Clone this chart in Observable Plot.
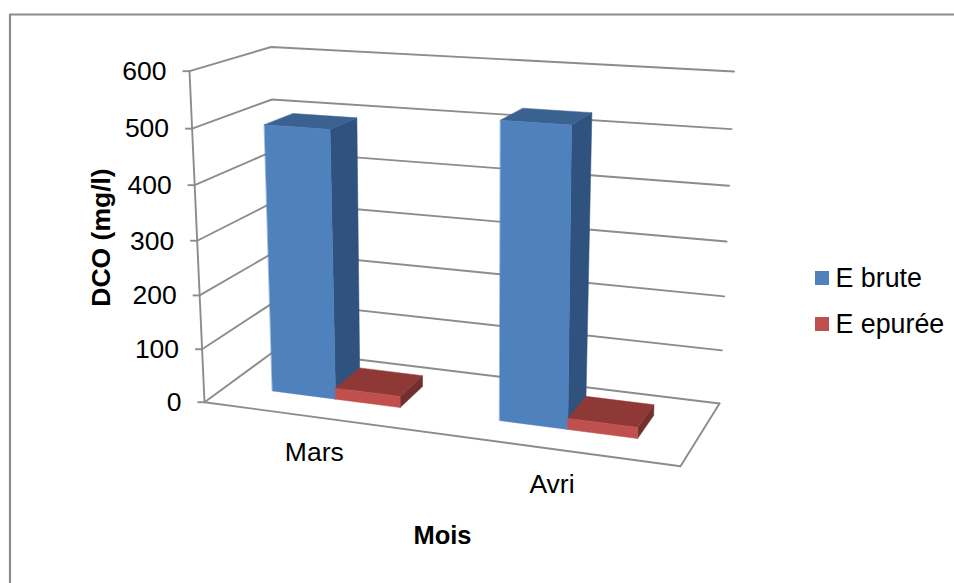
<!DOCTYPE html>
<html>
<head>
<meta charset="utf-8">
<script src="https://cdn.jsdelivr.net/npm/d3@7"></script>
<script src="https://cdn.jsdelivr.net/npm/@observablehq/plot@0.6"></script>
<style>html,body{margin:0;padding:0;background:#fff}svg{display:block}</style>
</head>
<body>
<div id="chart"></div>
<script>
const months = ["Mars", "Avri"];
const seriesNames = ["E brute", "E epurée"];
const eBrute = [496, 533];
const eEpuree = [21, 20];
const yTicks = [0, 100, 200, 300, 400, 500, 600];
const yMax = 600;

const frontColors = ["#4F81BD", "#C0504D"];
const sideColors = ["#2F527E", "#71302E"];
const topColors = ["#3A6290", "#8F3937"];
const gridColor = "#8C8C8C";
const font = "Liberation Sans, Arial, sans-serif";

// The eight corners of the chart's box as seen in the picture
const box = {
  bottom: {fl: [204, 401.7], fr: [680, 465.7], bl: [276, 349], br: [719, 403]},
  top: {fl: [189, 70.7], fr: [688, 102.7], bl: [270.5, 46.5], br: [733.5, 71]}
};
const persp = (s, k) => s / (k - (k - 1) * s);
const lerp = (a, b, t) => a + (b - a) * t;
// u: across the categories (0..1), d: depth (0 front, 1 back), v: data value
function project(u, d, v) {
  const U = persp(u, 1.08), T = persp(v / yMax, 1.05);
  const corner = (p) => [0, 1].map((i) =>
    lerp(lerp(p.fl[i], p.fr[i], U), lerp(p.bl[i], p.br[i], U), d));
  const lo = corner(box.bottom), hi = corner(box.top);
  return {x: lerp(lo[0], hi[0], T), y: lerp(lo[1], hi[1], T)};
}

// Bars: each category holds 1.5 gaps and 2 bars
const catWidth = 1 / months.length, barWidth = catWidth / 3.5;
const d0 = 0.325, d1 = 0.7, uShift = -0.0045;
const faces = [];
function addFace(color, corners) {
  const id = faces.length ? faces[faces.length - 1].id + 1 : 0;
  corners.forEach(([u, d, v]) => faces.push({id, color, ...project(u, d, v)}));
}
months.forEach((m, i) => {
  [eBrute, eEpuree].forEach((vals, s) => {
    const u0 = i * catWidth + 0.75 * barWidth + s * barWidth + uShift, u1 = u0 + barWidth, v = vals[i];
    addFace(sideColors[s], [[u1, d0, 0], [u1, d1, 0], [u1, d1, v], [u1, d0, v]]);
    addFace(topColors[s], [[u0, d0, v], [u1, d0, v], [u1, d1, v], [u0, d1, v]]);
    addFace(frontColors[s], [[u0, d0, 0], [u1, d0, 0], [u1, d0, v], [u0, d0, v]]);
  });
});

// Grid: left wall + back wall for each tick, and the floor outline
const grid = [];
yTicks.forEach((t) => {
  [[0, 0], [0, 1], [1, 1]].forEach(([u, d]) => grid.push({id: "g" + t, ...project(u, d, t)}));
});
[[0, 0], [1, 0], [1, 1]].forEach(([u, d]) => grid.push({id: "floor", ...project(u, d, 0)}));
[0, yMax].forEach((t) => grid.push({id: "axis", ...project(0, 0, t)}));

const ticks = yTicks.map((t) => ({t, ...project(0, 0, t)}));
const cats = months.map((m, i) => ({m, ...project((i + 0.5) * catWidth, 0, 0)}));

const legend = seriesNames.map((name, i) => ({name, color: frontColors[i], y: 278 + i * 46}));

const plot = Plot.plot({
  width: 954, height: 583, margin: 0,
  x: {domain: [0, 954], range: [0, 954], axis: null},
  y: {domain: [0, 583], range: [0, 583], axis: null},
  color: {type: "identity"},
  style: {background: "#fff", fontFamily: font},
  marks: [
    Plot.line([{x: 954, y: 14}, {x: 9.5, y: 14}, {x: 9.5, y: 583}], {x: "x", y: "y", stroke: gridColor, strokeWidth: 2.2}),
    Plot.line(grid, {x: "x", y: "y", z: "id", stroke: gridColor, strokeWidth: 1.9}),
    Plot.link(ticks, {x1: (d) => d.x - 7, x2: "x", y1: "y", y2: "y", stroke: gridColor, strokeWidth: 1.9}),
    Plot.line(faces, {x: "x", y: "y", z: "id", fill: "color", stroke: "color", strokeWidth: 0.5, curve: "linear-closed"}),
    Plot.text(ticks, {x: "x", y: "y", text: (d) => String(d.t), dx: -23, dy: 0.3, textAnchor: "end", fontSize: 26.5, fill: "#000"}),
    Plot.text(cats, {x: "x", y: "y", text: "m", dx: -2.5, dy: 35, fontSize: 26.5, fill: "#000"}),
    Plot.text(["DCO (mg/l)"], {x: 101, y: 237, text: (d) => d, rotate: -90, fontSize: 26.5, fontWeight: "bold", fill: "#000"}),
    Plot.text(["Mois"], {x: 442, y: 535, text: (d) => d, fontSize: 25.5, fontWeight: "bold", fill: "#000"}),
    Plot.rect(legend, {x1: 815, x2: 829, y1: (d) => d.y - 7, y2: (d) => d.y + 7, fill: "color"}),
    Plot.text(legend, {x: 835, y: "y", text: "name", textAnchor: "start", fontSize: 26.8, fill: "#000"})
  ]
});
document.getElementById("chart").append(plot);
</script>
</body>
</html>
